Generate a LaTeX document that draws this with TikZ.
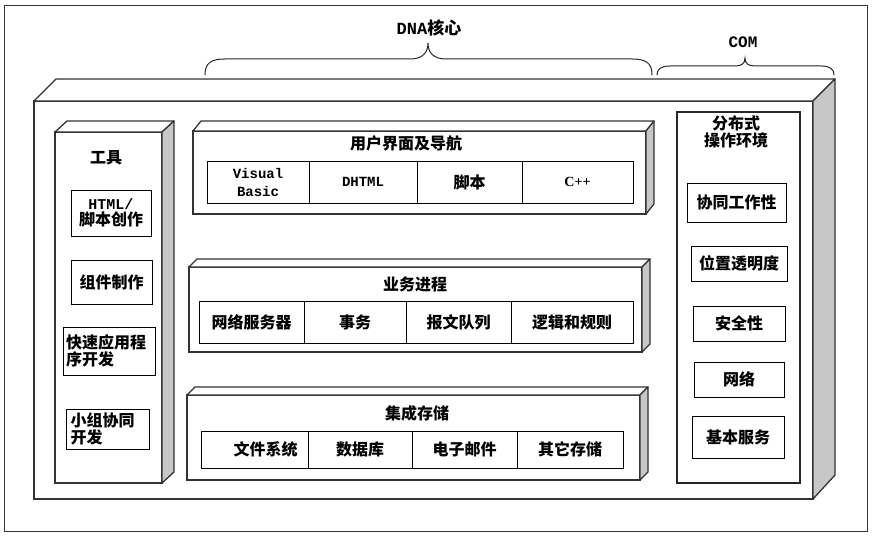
\documentclass[tikz,border=0pt]{standalone}
\usepackage{fontspec}
\setmainfont{Liberation Serif}
\newfontfamily\cjk{Noto Sans CJK SC}
\newfontfamily\mono{Liberation Mono}
\usetikzlibrary{calc}
\tikzset{
  face/.style={draw=black!80, line width=1.5pt, fill=white, outer sep=0pt, inner sep=0pt, anchor=north west},
  topface/.style={draw=black!80, line width=1.3pt, fill=white, line join=round},
  sideface/.style={draw=black!80, line width=1.3pt, fill=black!22, line join=round},
  cell/.style={draw=black, line width=0.9pt, inner sep=0pt, outer sep=0pt, align=center, font=\cjk\bfseries\fontsize{16}{18}\selectfont},
  tbox/.style={draw=black, line width=0.9pt, inner sep=0pt, outer sep=0pt, anchor=north west, align=left, font=\cjk\bfseries\fontsize{16}{17}\selectfont},
  ttl/.style={inner sep=0pt, align=center, font=\cjk\bfseries\fontsize{16}{18}\selectfont},
  brc/.style={draw=black!85, line width=1pt, line cap=round}
}
\begin{document}
\begin{tikzpicture}[x=1pt,y=-1pt]
\useasboundingbox (0,0) rectangle (874,540);
% outer frame
\draw[black!80, line width=0.8pt] (4,5) rectangle (867,531);

% braces
\draw[brc] (205,75) .. controls (205,63) and (211,59) .. (225,59) -- (410,59)
  .. controls (422,59) and (428,53) .. (428,43)
  .. controls (428,53) and (434,59) .. (446,59) -- (632,59)
  .. controls (646,59) and (652,63) .. (652,75);
\draw[brc] (657,75) .. controls (657,69) and (661,66) .. (670,66) -- (735,66)
  .. controls (741,66) and (745,64) .. (745,58)
  .. controls (745,64) and (749,66) .. (755,66) -- (821,66)
  .. controls (830,66) and (834,69) .. (834,75);
\node[inner sep=0pt] (dna) at (429,28) {\mono\bfseries\fontsize{17}{19}\selectfont DNA\cjk 核心};
\node[inner sep=0pt] (com) at (743,42) {\mono\bfseries\fontsize{16}{18}\selectfont COM};

% big 3D box
\node[face, minimum width=779pt, minimum height=398pt] (big) at (34,101) {};
\draw[topface] (big.north west) -- ++(22,-22) -- ($(big.north east)+(22,-22)$) -- (big.north east) -- cycle;
\draw[sideface] (big.north east) -- ++(22,-22) -- ($(big.south east)+(22,-24)$) -- (big.south east) -- cycle;

% tools column
\node[face, minimum width=107pt, minimum height=351pt] (tools) at (55,132) {};
\draw[topface] (tools.north west) -- ++(12,-11) -- ($(tools.north east)+(12,-11)$) -- (tools.north east) -- cycle;
\draw[sideface] (tools.north east) -- ++(12,-11) -- ($(tools.south east)+(12,-11)$) -- (tools.south east) -- cycle;
\node[ttl] (toolsT) at (106,158) {工具};
\node[tbox, minimum width=80pt, minimum height=46pt, align=center] (html) at (71,190) {{\mono\bfseries\fontsize{15}{16}\selectfont HTML/}\\[-1pt]脚本创作};
\node[tbox, minimum width=81pt, minimum height=44pt, align=center] (comp) at (71,260) {组件制作};
\node[tbox, minimum width=92pt, minimum height=48pt, text width=88pt] (rad) at (63,327) {\hspace*{1pt}快速应用程\\\hspace*{1pt}序开发};
\node[tbox, minimum width=83pt, minimum height=40pt, text width=78pt] (team) at (66,409) {\hspace*{2pt}小组协同\\\hspace*{2pt}开发};

% layer 1
\node[face, minimum width=453pt, minimum height=83pt] (l1) at (193,131) {};
\draw[topface] (l1.north west) -- ++(8,-10) -- ($(l1.north east)+(8,-10)$) -- (l1.north east) -- cycle;
\draw[sideface] (l1.north east) -- ++(8,-10) -- ($(l1.south east)+(8,-10)$) -- (l1.south east) -- cycle;
\node[ttl] (l1T) at (406,143) {用户界面及导航};
\node[cell, minimum width=102pt, minimum height=42pt] (vb) at (258,182) {\mono\bfseries\fontsize{14}{16}\selectfont Visual\\\mono\bfseries\fontsize{14}{16}\selectfont Basic};
\node[cell, minimum width=108pt, minimum height=42pt] (dhtml) at (363,182) {\mono\bfseries\fontsize{14}{16}\selectfont DHTML};
\node[cell, minimum width=105pt, minimum height=42pt] (script) at (469.5,182) {脚本};
\node[cell, minimum width=111pt, minimum height=42pt] (cpp) at (577.5,182) {\rmfamily\bfseries\fontsize{14}{16}\selectfont C++};

% layer 2
\node[face, minimum width=453pt, minimum height=85pt] (l2) at (189,267) {};
\draw[topface] (l2.north west) -- ++(8,-8) -- ($(l2.north east)+(8,-8)$) -- (l2.north east) -- cycle;
\draw[sideface] (l2.north east) -- ++(8,-8) -- ($(l2.south east)+(8,-8)$) -- (l2.south east) -- cycle;
\node[ttl] (l2T) at (415,284) {业务进程};
\node[cell, minimum width=105pt, minimum height=42pt] (web) at (251.5,322) {网络服务器};
\node[cell, minimum width=102pt, minimum height=42pt] (tx) at (355,322) {事务};
\node[cell, minimum width=105pt, minimum height=42pt] (mq) at (458.5,322) {报文队列};
\node[cell, minimum width=122pt, minimum height=42pt] (logic) at (572,322) {逻辑和规则};

% layer 3
\node[face, minimum width=453pt, minimum height=85pt] (l3) at (187,395) {};
\draw[topface] (l3.north west) -- ++(8,-8) -- ($(l3.north east)+(8,-8)$) -- (l3.north east) -- cycle;
\draw[sideface] (l3.north east) -- ++(8,-8) -- ($(l3.south east)+(8,-8)$) -- (l3.south east) -- cycle;
\node[ttl] (l3T) at (417,413) {集成存储};
\node[cell, minimum width=107pt, minimum height=37pt] (fs) at (254.5,449.5) {\hspace*{22pt}文件系统};
\node[cell, minimum width=104pt, minimum height=37pt] (db) at (360,449.5) {数据库};
\node[cell, minimum width=105pt, minimum height=37pt] (mail) at (464.5,449.5) {电子邮件};
\node[cell, minimum width=106pt, minimum height=37pt] (other) at (570,449.5) {其它存储};

% right column
\node[draw=black!85, line width=1.4pt, inner sep=0pt, outer sep=0pt, anchor=north west, minimum width=123pt, minimum height=371pt, fill=white] (dist) at (677,112) {};
\node[ttl, font=\cjk\bfseries\fontsize{16}{17}\selectfont] (distT) at (736,132) {分布式\\操作环境};
\node[cell, minimum width=99pt, minimum height=39pt] (coop) at (736.5,202.5) {协同工作性};
\node[cell, minimum width=96pt, minimum height=35pt] (loc) at (739,263.5) {位置透明度};
\node[cell, minimum width=92pt, minimum height=35pt] (sec) at (739,323.5) {安全性};
\node[cell, minimum width=90pt, minimum height=35pt] (net) at (739,379.5) {网络};
\node[cell, minimum width=92pt, minimum height=42pt] (base) at (738,437) {基本服务};
\end{tikzpicture}
\end{document}
